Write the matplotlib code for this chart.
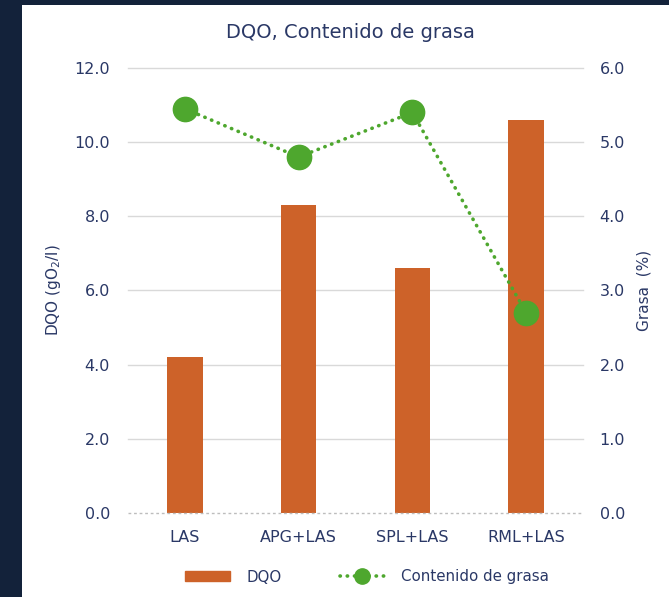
import matplotlib
matplotlib.use("Agg")
import matplotlib.pyplot as plt
from matplotlib.patches import Rectangle
from matplotlib.lines import Line2D

plt.rcParams['font.family'] = ['DejaVu Sans']

categories = ["LAS", "APG+LAS", "SPL+LAS", "RML+LAS"]
dqo = [4.2, 8.3, 6.6, 10.6]
grasa = [5.45, 4.8, 5.4, 2.7]
left_ticks = [0, 2, 4, 6, 8, 10, 12]
right_ticks = [0, 1, 2, 3, 4, 5, 6]

navy_bg = "#13223a"
text_c = "#2a3866"
orange = "#cd6229"
green = "#4ea72e"
grid_c = "#d9d9d9"
dots = (0, (0.1, 1.9))

W, H = 669, 597
fig = plt.figure(figsize=(W / 100, H / 100), dpi=100, facecolor=navy_bg)
fig.patches.append(Rectangle((22 / W, 0), 1 - 22 / W, 1 - 5 / H,
                             transform=fig.transFigure, facecolor="white",
                             edgecolor="none", zorder=-10))

ax = fig.add_axes([128 / W, 1 - 513 / H, (583 - 128) / W, (513 - 68) / H])
ax.set_facecolor("none")
x = range(len(categories))
ax.bar(x, dqo, width=0.31, color=orange, zorder=2)
ax.set_xlim(-0.5, 3.5)
ax.set_ylim(0, 12)
ax.set_yticks(left_ticks)
ax.set_yticklabels([f"{v:.1f}" for v in left_ticks])
ax.set_xticks(list(x))
ax.set_xticklabels(categories)
for t in left_ticks[1:]:
    ax.axhline(t, color=grid_c, lw=1, zorder=1, clip_on=False)
ax.axhline(0, color="#bdbdbd", lw=1, ls=(0, (2, 2)), zorder=3, clip_on=False)
for s in ax.spines.values():
    s.set_visible(False)
ax.tick_params(axis="both", length=0, colors=text_c, labelsize=11.5)
ax.tick_params(axis="y", pad=13)
ax.tick_params(axis="x", pad=12)
ax.set_ylabel("DQO (gO$_2$/l)", color=text_c, fontsize=11, labelpad=8)

ax2 = ax.twinx()
ax2.plot(list(x), grasa, color=green, ls=dots, lw=2.6,
         marker="o", markersize=17.5, dash_capstyle="round", zorder=4)
ax2.set_ylim(0, 6)
ax2.set_yticks(right_ticks)
ax2.set_yticklabels([f"{v:.1f}" for v in right_ticks])
for s in ax2.spines.values():
    s.set_visible(False)
ax2.tick_params(axis="y", length=0, colors=text_c, labelsize=11.5, pad=12)
ax2.set_ylabel("Grasa  (%)", color=text_c, fontsize=11, labelpad=8)

fig.text(350 / W, 1 - 32 / H, "DQO, Contenido de grasa",
         ha="center", va="center", color=text_c, fontsize=14)

handles = [Rectangle((0, 0), 1, 1, color=orange),
           Line2D([0], [0], color=green, ls=dots, lw=2.6,
                  marker="o", markersize=11, dash_capstyle="round")]
fig.legend(handles, ["DQO", "Contenido de grasa"], loc="center",
           bbox_to_anchor=(367 / W, 1 - 577 / H), ncol=2, frameon=False,
           fontsize=10.8, labelcolor=text_c, handlelength=3.0, handleheight=0.67,
           columnspacing=3.9, handletextpad=1.1)

fig.savefig("out.png", dpi=100, facecolor=fig.get_facecolor())
